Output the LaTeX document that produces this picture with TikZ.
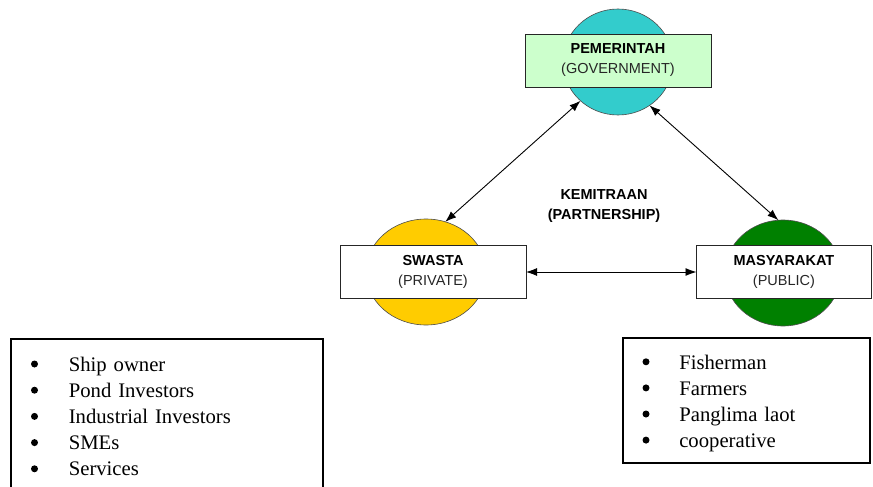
\documentclass[tikz,border=0pt]{standalone}
\usepackage{fontspec}
\setmainfont{Liberation Serif}
\setsansfont{Liberation Sans}
\usepackage{tikz}
\usetikzlibrary{shapes.geometric,arrows.meta}

\definecolor{govcyan}{HTML}{33CCCC}
\definecolor{govpale}{HTML}{CCFFCC}
\definecolor{privyellow}{HTML}{FFCC00}
\definecolor{pubgreen}{HTML}{008000}
\definecolor{subgray}{HTML}{262626}

\begin{document}
\begin{tikzpicture}[x=1pt,y=-1pt,
		blob/.style={ellipse, draw=black!70, line width=0.6pt, inner sep=0pt, outer sep=0pt, minimum height=106pt},
		sector/.style={rectangle, draw=black!85, line width=0.8pt, inner sep=0pt, outer sep=0pt,
		minimum height=53pt, align=center, font=\sffamily\fontsize{14.5}{20}\selectfont},
		link/.style={{Latex[length=11pt,width=8pt]}-{Latex[length=11pt,width=8pt]}, line width=0.9pt},
		listbox/.style={rectangle, draw, line width=1.6pt, anchor=north west, align=left,
		inner ysep=0pt, font=\fontsize{20.7}{26}\selectfont},
		]

		\useasboundingbox (0,0) rectangle (873,487);
		\clip (0,0) rectangle (873,487);

		\def\sub#1{\textcolor{subgray}{#1}}
		\def\dotr{3.5pt}

		% the three partners
		\node[blob, fill=govcyan, minimum width=110pt]    (govblob)  at (618,62)  {};
		\node[sector, fill=govpale, minimum width=186pt]  (gov)      at (618,60.5) {\textbf{PEMERINTAH}\\\sub{(GOVERNMENT)}};

		\node[blob, fill=privyellow, minimum width=120pt] (privblob) at (426,272) {};
		\node[sector, fill=white, minimum width=186pt]    (priv)     at (433,272) {\textbf{SWASTA}\\\sub{(PRIVATE)}};

		\node[blob, fill=pubgreen, minimum width=116pt]   (pubblob)  at (783,273) {};
		\node[sector, fill=white, minimum width=175pt]    (pub)      at (784,272) {\textbf{MASYARAKAT}\\\sub{(PUBLIC)}};

		\node[font=\sffamily\bfseries\fontsize{14.5}{20}\selectfont, align=center] (partner) at (604,206)
		{KEMITRAAN\\(PARTNERSHIP)};

		% links
		\draw[link] (govblob.226) -- (privblob.69);
		\draw[link] (govblob.306) -- (pubblob.95);
		\draw[link] (priv.east) -- (pub.west);

		% member lists
		\node[listbox, inner xsep=58pt, text width=196pt, minimum height=156pt] (privlist) at (10,338)
		{Ship owner\\Pond Investors\\Industrial Investors\\SMEs\\Services};

		\node[listbox, inner xsep=56.5pt, text width=134pt, minimum height=125pt] (publist) at (622,337)
		{\rule{0pt}{21pt}Fisherman\\Farmers\\Panglima laot\\cooperative};

		% bullets
		\foreach \i in {0,...,4} \fill (34.5,{364+26.2*\i}) circle (\dotr);
		\foreach \i in {0,...,3} \fill (646,{361.8+26.1*\i}) circle (\dotr);

	\end{tikzpicture}
\end{document}
